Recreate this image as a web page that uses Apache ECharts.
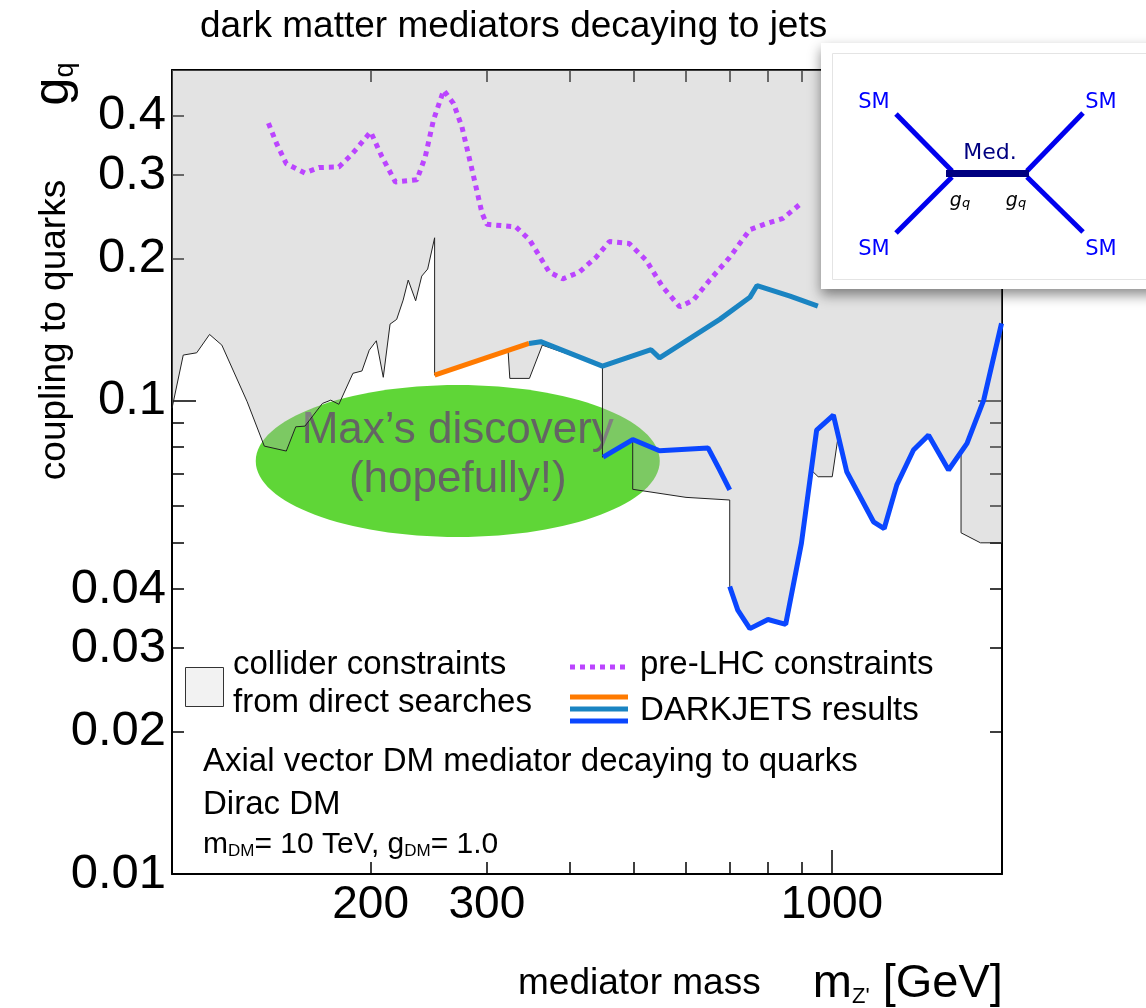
<!DOCTYPE html>
<html>
<head>
<meta charset="utf-8">
<script src="https://cdn.jsdelivr.net/npm/echarts@6/dist/echarts.min.js"></script>
<style>
html, body { margin: 0; padding: 0; background: #fff; }
#chart { width: 1146px; height: 1008px; }
</style>
</head>
<body>
<div id="chart"></div>
<script>
// axes
var xMin = 100, xMax = 1810;
var yMin = 0.01, yMax = 0.5;
var xLabels = [200, 300, 1000];
var xShortTicks = [200, 300, 400, 500, 600, 700, 800, 900];
var xLongTicks = [1000];
var yLabels = [0.01, 0.02, 0.03, 0.04, 0.1, 0.2, 0.3, 0.4];
var yShortTicks = [0.02, 0.03, 0.04, 0.05, 0.06, 0.07, 0.08, 0.09, 0.2, 0.3, 0.4];
var yLongTicks = [0.1];

// pre-LHC constraints (dotted)
var preLhcMass = [140, 144, 149, 159, 167, 179, 187, 200, 208, 218, 235, 242, 249, 258, 267, 275, 285, 295, 300,
    332, 348, 373, 391, 414, 439, 460, 493, 523, 554, 588, 616, 653, 700, 751, 796, 843, 900];
var preLhcCoupling = [0.386, 0.350, 0.317, 0.303, 0.311, 0.312, 0.331, 0.370, 0.328, 0.290, 0.293, 0.328, 0.392, 0.453, 0.425, 0.379, 0.307, 0.249, 0.236,
    0.233, 0.219, 0.187, 0.181, 0.187, 0.201, 0.217, 0.215, 0.198, 0.174, 0.158, 0.163, 0.180, 0.201, 0.230, 0.237, 0.243, 0.262];

// collider constraints: lower edge of the excluded (grey) region
var colliderMass = [100, 104, 109, 114, 119, 130, 138, 149, 154, 159, 169, 174, 179, 188, 194, 199, 204, 209, 214, 219,
    224, 228, 234, 239, 244, 250, 250, 323, 325, 348, 364, 449, 449, 499, 499, 601, 700, 700, 720, 751,
    800, 851, 899, 930, 953, 1001, 1020, 1053, 1156, 1200, 1254, 1329, 1401, 1502, 1569, 1569, 1679, 1810];
var colliderCoupling = [0.0964, 0.1249, 0.1263, 0.1381, 0.1311, 0.0995, 0.0802, 0.0783, 0.0881, 0.0884, 0.0987, 0.1003, 0.0983, 0.1143, 0.1156, 0.1279, 0.1339, 0.1121, 0.1452, 0.1486,
    0.1632, 0.1799, 0.1627, 0.1834, 0.1898, 0.2210, 0.1133, 0.1279, 0.1115, 0.1115, 0.1311, 0.1184, 0.0760, 0.0828, 0.0650, 0.0625, 0.0617, 0.0405, 0.0361, 0.0330,
    0.0345, 0.0337, 0.0500, 0.0714, 0.0691, 0.0691, 0.0826, 0.0708, 0.0555, 0.0537, 0.0664, 0.0787, 0.0846, 0.0714, 0.0779, 0.0526, 0.0501, 0.0501];

// DARKJETS results
var orangeMass = [250, 347.5];
var orangeCoupling = [0.1133, 0.1322];
var tealMass = [347.5, 362, 449, 532, 548, 676, 751, 770, 864, 952];
var tealCoupling = [0.1322, 0.1333, 0.1184, 0.1282, 0.1232, 0.1486, 0.1654, 0.1752, 0.1664, 0.1585];
var blueAMass = [450, 499, 548, 649, 676, 700];
var blueACoupling = [0.0760, 0.0828, 0.0784, 0.0795, 0.0714, 0.0648];
var blueBMass = [700, 720, 751, 800, 851, 899, 948, 1005, 1053, 1156, 1200, 1254, 1329, 1401, 1502, 1602, 1698, 1807];
var blueBCoupling = [0.0405, 0.0361, 0.0330, 0.0345, 0.0337, 0.0500, 0.0867, 0.0933, 0.0708, 0.0555, 0.0537, 0.0664, 0.0787, 0.0846, 0.0714, 0.0813, 0.1003, 0.1457];

// "discovery" ellipse centre (data coords)
var blobCenter = [271, 0.0746];

var FONT = 'Liberation Sans, Helvetica, Arial, sans-serif';
var DJ = 'DejaVu Sans, sans-serif';

function pairs(xs, ys) {
    return xs.map(function (x, i) { return [x, ys[i]]; });
}
function fmt(v) {
    return String(+(+v).toPrecision(2));
}

function logAxis(pos, min, max, ticks, len, withLine, label) {
    return {
        type: 'log', logBase: 10, min: min, max: max, position: pos,
        axisLine: {show: withLine, onZero: false, lineStyle: {color: '#000', width: 2}},
        axisTick: {show: true, inside: true, length: len, customValues: ticks, lineStyle: {color: '#000', width: 1.5}},
        axisLabel: label || {show: false},
        splitLine: {show: false},
        minorTick: {show: false},
        minorSplitLine: {show: false}
    };
}

var chart = echarts.init(document.getElementById('chart'));

var option = {
    animation: false,
    backgroundColor: '#fff',
    grid: {left: 172, right: 144, top: 70, bottom: 134, containLabel: false, outerBoundsMode: 'none'},
    xAxis: [
        logAxis('bottom', xMin, xMax, xLongTicks, 24, true, {
            show: true, customValues: xLabels, formatter: fmt, margin: 8,
            color: '#000', fontSize: 46, fontFamily: FONT
        }),
        logAxis('bottom', xMin, xMax, xShortTicks, 12, false),
        logAxis('top', xMin, xMax, xLongTicks, 24, true),
        logAxis('top', xMin, xMax, xShortTicks, 12, false)
    ],
    yAxis: [
        logAxis('left', yMin, yMax, yLongTicks, 24, true, {
            show: true, customValues: yLabels, formatter: fmt, margin: 6,
            color: '#000', fontSize: 49, fontFamily: FONT
        }),
        logAxis('left', yMin, yMax, yShortTicks, 12, false),
        logAxis('right', yMin, yMax, yLongTicks, 24, true),
        logAxis('right', yMin, yMax, yShortTicks, 12, false)
    ],
    series: [
        {
            name: 'collider constraints', type: 'line', z: 2,
            data: pairs(colliderMass, colliderCoupling),
            symbol: 'none', smooth: false,
            lineStyle: {color: '#222', width: 1},
            areaStyle: {origin: 'end', color: 'rgb(178,178,178)', opacity: 0.36}
        },
        {
            name: 'pre-LHC constraints', type: 'line', z: 3,
            data: pairs(preLhcMass, preLhcCoupling),
            symbol: 'none',
            lineStyle: {color: '#bb44ff', width: 5, type: [5, 5], cap: 'butt'}
        },
        {
            name: 'DARKJETS orange', type: 'line', z: 4,
            data: pairs(orangeMass, orangeCoupling),
            symbol: 'none',
            lineStyle: {color: '#ff7a00', width: 5}
        },
        {
            name: 'DARKJETS teal', type: 'line', z: 4,
            data: pairs(tealMass, tealCoupling),
            symbol: 'none',
            lineStyle: {color: '#1a84c2', width: 5}
        },
        {
            name: 'DARKJETS blue 1', type: 'line', z: 4,
            data: pairs(blueAMass, blueACoupling),
            symbol: 'none',
            lineStyle: {color: '#0a46ff', width: 5}
        },
        {
            name: 'DARKJETS blue 2', type: 'line', z: 4,
            data: pairs(blueBMass, blueBCoupling),
            symbol: 'none',
            lineStyle: {color: '#0a46ff', width: 5}
        }
    ]
};
chart.setOption(option);

function txt(x, y, text, size, extra) {
    var el = {
        type: 'text', x: x, y: y, z: 50,
        style: {text: text, fontSize: size, fontFamily: FONT, fill: '#000',
            align: 'left', verticalAlign: 'middle', textAlign: 'left', textVerticalAlign: 'middle'}
    };
    if (extra) {
        for (var k in extra) {
            if (k === 'style') {
                for (var s in extra.style) el.style[s] = extra.style[s];
            } else {
                el[k] = extra[k];
            }
        }
    }
    return el;
}
function seg(x1, y1, x2, y2, color, w) {
    return {type: 'line', z: 102, shape: {x1: x1, y1: y1, x2: x2, y2: y2},
        style: {stroke: color, lineWidth: w, lineCap: 'butt'}};
}

var c = chart.convertToPixel({xAxisIndex: 0, yAxisIndex: 0}, blobCenter);

var graphics = [
    // the hoped-for discovery blob (under the grey region)
    {type: 'ellipse', z: 0, shape: {cx: c[0], cy: c[1], rx: 202, ry: 76}, style: {fill: '#5fd637'}},
    txt(c[0], c[1] - 30, 'Max\u2019s discovery', 44, {z: 1, style: {fill: '#646464', align: 'center', textAlign: 'center'}}),
    txt(c[0], c[1] + 19, '(hopefully!)', 44, {z: 1, style: {fill: '#646464', align: 'center', textAlign: 'center'}}),

    // title and axis names
    txt(200, 27, 'dark matter mediators decaying to jets', 37),
    txt(55, 330, 'coupling to quarks', 37, {rotation: Math.PI / 2, style: {align: 'center', textAlign: 'center'}}),
    txt(54, 84, '{g|g}{q|q}', 46, {rotation: Math.PI / 2, style: {align: 'center', textAlign: 'center',
        rich: {g: {fontSize: 50, fontFamily: FONT}, q: {fontSize: 27, fontFamily: FONT, verticalAlign: 'bottom', lineHeight: 40}}}}),
    txt(518, 984, '{a|mediator mass}{b|    m}{z|Z\'}{b| [GeV]}', 37, {style: {
        rich: {a: {fontSize: 37, fontFamily: FONT}, b: {fontSize: 47, fontFamily: FONT},
            z: {fontSize: 22, fontFamily: FONT, verticalAlign: 'bottom', lineHeight: 36}}}}),

    // legend
    {type: 'rect', z: 50, shape: {x: 185.5, y: 667.5, width: 38, height: 39}, style: {fill: '#f2f2f2', stroke: '#333', lineWidth: 1}},
    txt(233, 665, 'collider constraints', 33),
    txt(233, 703, 'from direct searches', 33),
    {type: 'line', z: 50, shape: {x1: 570, y1: 667, x2: 628, y2: 667}, style: {stroke: '#bb44ff', lineWidth: 5, lineDash: [5, 5]}},
    txt(640, 665, 'pre-LHC constraints', 33),
    seg(570, 697, 628, 697, '#ff7a00', 5),
    seg(570, 709, 628, 709, '#1a84c2', 5),
    seg(570, 721, 628, 721, '#0a46ff', 5),
    txt(640, 711, 'DARKJETS results', 33),
    txt(203, 762, 'Axial vector DM mediator decaying to quarks', 33),
    txt(203, 805, 'Dirac DM', 33),
    txt(203, 845, '{m|m}{s|DM}{m|= 10 TeV, g}{s|DM}{m|= 1.0}', 30, {style: {
        rich: {m: {fontSize: 30, fontFamily: FONT}, s: {fontSize: 17, fontFamily: FONT, verticalAlign: 'bottom', lineHeight: 24}}}}),

    // inset Feynman diagram
    {type: 'rect', z: 100, shape: {x: 821, y: 43, width: 340, height: 246},
        style: {fill: '#fff', shadowBlur: 12, shadowColor: 'rgba(0,0,0,0.45)', shadowOffsetY: 6}},
    {type: 'rect', z: 101, shape: {x: 832.5, y: 53.5, width: 330, height: 226}, style: {fill: 'none', stroke: '#e4e4e4', lineWidth: 1}},
    seg(896, 114, 952, 171, '#0000ee', 5),
    seg(896, 233, 952, 177, '#0000ee', 5),
    seg(1083, 113, 1027, 171, '#0000ee', 5),
    seg(1083, 232, 1027, 177, '#0000ee', 5),
    seg(946, 173.5, 1029, 173.5, '#000080', 7),
    txt(874, 103, 'SM', 21, {z: 103, style: {fontFamily: DJ, fill: '#0000ff', align: 'center', textAlign: 'center'}}),
    txt(874, 250, 'SM', 21, {z: 103, style: {fontFamily: DJ, fill: '#0000ff', align: 'center', textAlign: 'center'}}),
    txt(1101, 103, 'SM', 21, {z: 103, style: {fontFamily: DJ, fill: '#0000ff', align: 'center', textAlign: 'center'}}),
    txt(1101, 250, 'SM', 21, {z: 103, style: {fontFamily: DJ, fill: '#0000ff', align: 'center', textAlign: 'center'}}),
    txt(990, 153, 'Med.', 22, {z: 103, style: {fontFamily: DJ, fill: '#000080', align: 'center', textAlign: 'center'}}),
    txt(960, 201, '{g|g}{q|q}', 18, {z: 103, style: {align: 'center', textAlign: 'center',
        rich: {g: {fontSize: 19, fontFamily: DJ, fontStyle: 'italic'}, q: {fontSize: 13, fontFamily: DJ, fontStyle: 'italic', verticalAlign: 'bottom', lineHeight: 18}}}}),
    txt(1016, 201, '{g|g}{q|q}', 18, {z: 103, style: {align: 'center', textAlign: 'center',
        rich: {g: {fontSize: 19, fontFamily: DJ, fontStyle: 'italic'}, q: {fontSize: 13, fontFamily: DJ, fontStyle: 'italic', verticalAlign: 'bottom', lineHeight: 18}}}})
];

chart.setOption({graphic: {elements: graphics}});
</script>
</body>
</html>
